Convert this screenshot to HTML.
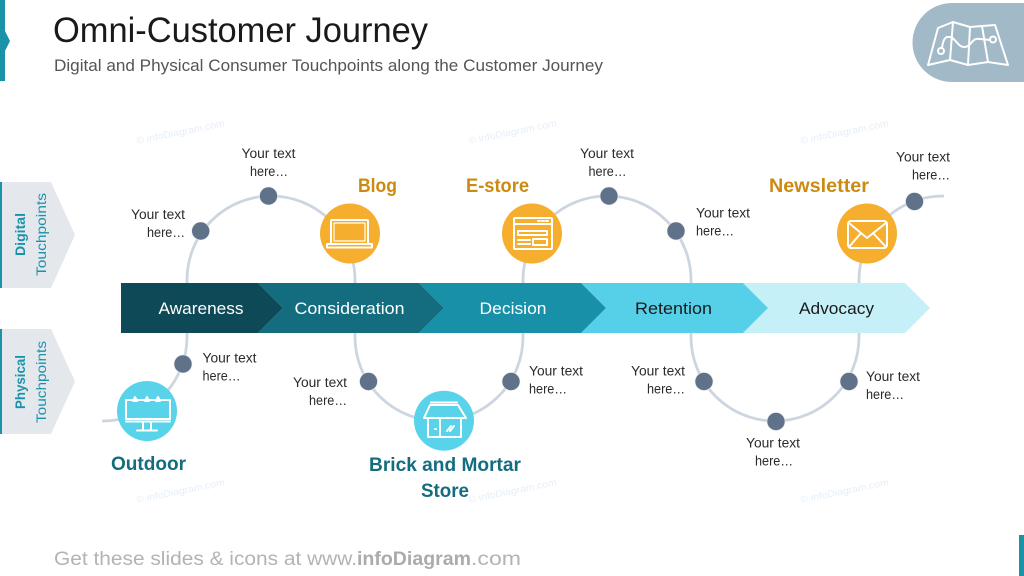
<!DOCTYPE html>
<html><head><meta charset="utf-8"><style>
html,body{margin:0;padding:0;background:#fff}
svg{display:block}
text{font-family:"Liberation Sans",sans-serif}
.y{font-size:13.5px;fill:#2b2b2b}
.h{font-size:19px;font-weight:bold;fill:#cc8a12}
.p{font-size:19px;font-weight:bold;fill:#136d7e}
.b{font-size:16.5px}
.w{font-size:9.5px;fill:#e6eef8}
.i{fill:none;stroke:#fff;stroke-width:2;stroke-linejoin:round;stroke-linecap:round}
</style></head><body>
<svg width="1024" height="576" viewBox="0 0 1024 576" xmlns="http://www.w3.org/2000/svg">
<rect width="1024" height="576" fill="#fff"/>
<path d="M0,0H5V31L10,41L5,51V81H0Z" fill="#1a93a9"/>
<rect x="1019" y="535" width="5" height="41" fill="#1a93a9"/>
<text x="53" y="42" font-size="35" fill="#1a1a1a" textLength="375" lengthAdjust="spacingAndGlyphs">Omni-Customer Journey</text>
<text x="54" y="71" font-size="17" fill="#555" textLength="549" lengthAdjust="spacingAndGlyphs">Digital and Physical Consumer Touchpoints along the Customer Journey</text>

<path d="M1024,3H952A39.500,39.500 0 0 0 952,82H1024Z" fill="#a2b9c8"/>
<g class="i">
<path d="M928,65L938,28L953,22L970,27L995,25L1008,65L988,62L968,65L950,60Z"/>
<path d="M953,22L950,60M970,27L968,65M982,26L988,62"/>
<circle cx="941" cy="51" r="3"/><circle cx="993" cy="39.500" r="3"/>
<path d="M942,48C943,40 945,36 950,37C956,38 958,48 965,47C972,46 972,37 980,39L990,40"/>
</g>

<g transform="rotate(-11.500 137 144)">
<text class="w" x="137" y="144" textLength="90" lengthAdjust="spacingAndGlyphs">© infoDiagram.com</text></g>
<g transform="rotate(-11.500 469 144)">
<text class="w" x="469" y="144" textLength="90" lengthAdjust="spacingAndGlyphs">© infoDiagram.com</text></g>
<g transform="rotate(-11.500 801 144)">
<text class="w" x="801" y="144" textLength="90" lengthAdjust="spacingAndGlyphs">© infoDiagram.com</text></g>
<g transform="rotate(-11.500 137 503)">
<text class="w" x="137" y="503" textLength="90" lengthAdjust="spacingAndGlyphs">© infoDiagram.com</text></g>
<g transform="rotate(-11.500 469 503)">
<text class="w" x="469" y="503" textLength="90" lengthAdjust="spacingAndGlyphs">© infoDiagram.com</text></g>
<g transform="rotate(-11.500 801 503)">
<text class="w" x="801" y="503" textLength="90" lengthAdjust="spacingAndGlyphs">© infoDiagram.com</text></g>

<path d="M0,182H51L75,235L51,288H0Z" fill="#e4e8ed"/>
<rect x="0" y="182" width="2" height="106" fill="#1a93a9"/>
<path d="M0,329H51L75,381.500L51,434H0Z" fill="#e4e8ed"/>
<rect x="0" y="329" width="2" height="105" fill="#1a93a9"/>
<text transform="translate(25,256) rotate(-90)" font-size="14" font-weight="bold" fill="#1a93a9" textLength="43" lengthAdjust="spacingAndGlyphs">Digital</text>
<text transform="translate(46,276) rotate(-90)" font-size="14" fill="#1a93a9" textLength="83" lengthAdjust="spacingAndGlyphs">Touchpoints</text>
<text transform="translate(25,409) rotate(-90)" font-size="14" font-weight="bold" fill="#1a93a9" textLength="54" lengthAdjust="spacingAndGlyphs">Physical</text>
<text transform="translate(46,423) rotate(-90)" font-size="14" fill="#1a93a9" textLength="82" lengthAdjust="spacingAndGlyphs">Touchpoints</text>

<path d="M102,421A84,84 0 0 0 187,337V280A84,84 0 0 1 355,280V337A84,84 0 0 0 523,337V280A84,84 0 0 1 691,280V337A84,84 0 0 0 859,337V280A84,84 0 0 1 944,196" fill="none" stroke="#cdd6e0" stroke-width="2.800"/>

<path d="M743,283H905L930,308L905,333H743L768,308Z" fill="#c6f0f8"/>
<path d="M581,283H743L768,308L743,333H581L606,308Z" fill="#56d0e8"/>
<path d="M419,283H581L606,308L581,333H419L444,308Z" fill="#1790a8"/>
<path d="M258,283H419L444,308L419,333H258L283,308Z" fill="#136d7e"/>
<path d="M121,283H258L283,308L258,333H121Z" fill="#0d4956"/>
<text class="b" x="158.500" y="314" fill="#fff" textLength="85" lengthAdjust="spacingAndGlyphs">Awareness</text>
<text class="b" x="294.500" y="314" fill="#fff" textLength="110" lengthAdjust="spacingAndGlyphs">Consideration</text>
<text class="b" x="479.500" y="314" fill="#fff" textLength="67" lengthAdjust="spacingAndGlyphs">Decision</text>
<text class="b" x="635" y="314" fill="#1a1a1a" textLength="77" lengthAdjust="spacingAndGlyphs">Retention</text>
<text class="b" x="799" y="314" fill="#1a1a1a" textLength="75" lengthAdjust="spacingAndGlyphs">Advocacy</text>

<g fill="#5f7289" stroke="#e8ecf0" stroke-width="0.600">
<circle cx="268.500" cy="196" r="9"/><circle cx="200.700" cy="231" r="9"/>
<circle cx="183" cy="364" r="9"/><circle cx="368.500" cy="381.500" r="9"/>
<circle cx="511" cy="381.500" r="9"/><circle cx="609" cy="196" r="9"/>
<circle cx="676" cy="231" r="9"/><circle cx="704" cy="381.500" r="9"/>
<circle cx="776" cy="421.500" r="9"/><circle cx="849" cy="381.500" r="9"/>
<circle cx="914.500" cy="201.500" r="9"/>
</g>

<circle cx="350" cy="233.500" r="30" fill="#f5ae2e"/>
<circle cx="532" cy="233.500" r="30" fill="#f5ae2e"/>
<circle cx="867" cy="233.500" r="30" fill="#f5ae2e"/>
<circle cx="147" cy="411" r="30" fill="#58d3ea"/>
<circle cx="444" cy="420.700" r="30" fill="#58d3ea"/>

<g class="i">
<rect x="331" y="220" width="37" height="24" rx="1"/>
<rect x="334" y="223" width="31" height="18" stroke-width="1.200"/>
<path d="M327,244H372V247.500H327Z"/>
</g>
<g class="i">
<rect x="514" y="218" width="38" height="31" rx="1"/>
<path d="M514,224H552M518,231H547V235H518ZM518,240H530M518,244H530"/>
<rect x="533" y="239" width="14" height="6"/>
<path d="M538,221H540M542,221H544M546,221H548"/>
</g>
<g class="i">
<rect x="848" y="221" width="39" height="27" rx="3"/>
<path d="M849,223L867,238L886,223M849,247L861,233M886,247L873,233"/>
</g>
<g class="i">
<rect x="126" y="400" width="44" height="19"/>
<path d="M126,421.500H170M143,422V430M151,422V430M137,430.500H157"/>
<path d="M133,401L135,397L137,401ZM145,401L147,397L149,401ZM156,401L158,397L160,401Z" fill="#fff"/>
</g>
<g class="i">
<path d="M430,405H458L466,418H424Z"/>
<path d="M431,402.500H457"/>
<path d="M428,418V437H461V418M440,419V437"/>
<path d="M447,431L451,426M450,431L454,426M435,429H436"/>
</g>

<text class="h" x="358" y="192" textLength="39" lengthAdjust="spacingAndGlyphs">Blog</text>
<text class="h" x="466" y="192" textLength="63" lengthAdjust="spacingAndGlyphs">E-store</text>
<text class="h" x="769" y="192" textLength="100" lengthAdjust="spacingAndGlyphs">Newsletter</text>
<text class="p" x="111" y="470" textLength="75" lengthAdjust="spacingAndGlyphs">Outdoor</text>
<text class="p" x="369" y="471" textLength="152" lengthAdjust="spacingAndGlyphs">Brick and Mortar</text>
<text class="p" x="421" y="497" textLength="48" lengthAdjust="spacingAndGlyphs">Store</text>

<text class="y" x="241.500" y="158" textLength="54" lengthAdjust="spacingAndGlyphs">Your text</text>
<text class="y" x="250" y="176" textLength="38" lengthAdjust="spacingAndGlyphs">here…</text>
<text class="y" x="131" y="219" textLength="54" lengthAdjust="spacingAndGlyphs">Your text</text>
<text class="y" x="147" y="237" textLength="38" lengthAdjust="spacingAndGlyphs">here…</text>
<text class="y" x="202.500" y="362.500" textLength="54" lengthAdjust="spacingAndGlyphs">Your text</text>
<text class="y" x="202.500" y="380.500" textLength="38" lengthAdjust="spacingAndGlyphs">here…</text>
<text class="y" x="293" y="387" textLength="54" lengthAdjust="spacingAndGlyphs">Your text</text>
<text class="y" x="309" y="405" textLength="38" lengthAdjust="spacingAndGlyphs">here…</text>
<text class="y" x="529" y="375.500" textLength="54" lengthAdjust="spacingAndGlyphs">Your text</text>
<text class="y" x="529" y="393.500" textLength="38" lengthAdjust="spacingAndGlyphs">here…</text>
<text class="y" x="580" y="158" textLength="54" lengthAdjust="spacingAndGlyphs">Your text</text>
<text class="y" x="588.500" y="176" textLength="38" lengthAdjust="spacingAndGlyphs">here…</text>
<text class="y" x="696" y="217.500" textLength="54" lengthAdjust="spacingAndGlyphs">Your text</text>
<text class="y" x="696" y="235.500" textLength="38" lengthAdjust="spacingAndGlyphs">here…</text>
<text class="y" x="631" y="375.500" textLength="54" lengthAdjust="spacingAndGlyphs">Your text</text>
<text class="y" x="647" y="393.500" textLength="38" lengthAdjust="spacingAndGlyphs">here…</text>
<text class="y" x="746" y="447.500" textLength="54" lengthAdjust="spacingAndGlyphs">Your text</text>
<text class="y" x="755" y="465.500" textLength="38" lengthAdjust="spacingAndGlyphs">here…</text>
<text class="y" x="866" y="381" textLength="54" lengthAdjust="spacingAndGlyphs">Your text</text>
<text class="y" x="866" y="399" textLength="38" lengthAdjust="spacingAndGlyphs">here…</text>
<text class="y" x="896" y="161.500" textLength="54" lengthAdjust="spacingAndGlyphs">Your text</text>
<text class="y" x="912" y="179.500" textLength="38" lengthAdjust="spacingAndGlyphs">here…</text>

<text x="54" y="565" font-size="19" fill="#b3b3b3" textLength="303" lengthAdjust="spacingAndGlyphs">Get these slides &amp; icons at www.</text>
<text x="357" y="565" font-size="19" font-weight="bold" fill="#ababab" textLength="114" lengthAdjust="spacingAndGlyphs">infoDiagram</text>
<text x="471" y="565" font-size="19" fill="#b3b3b3" textLength="50" lengthAdjust="spacingAndGlyphs">.com</text>
</svg>
</body></html>
